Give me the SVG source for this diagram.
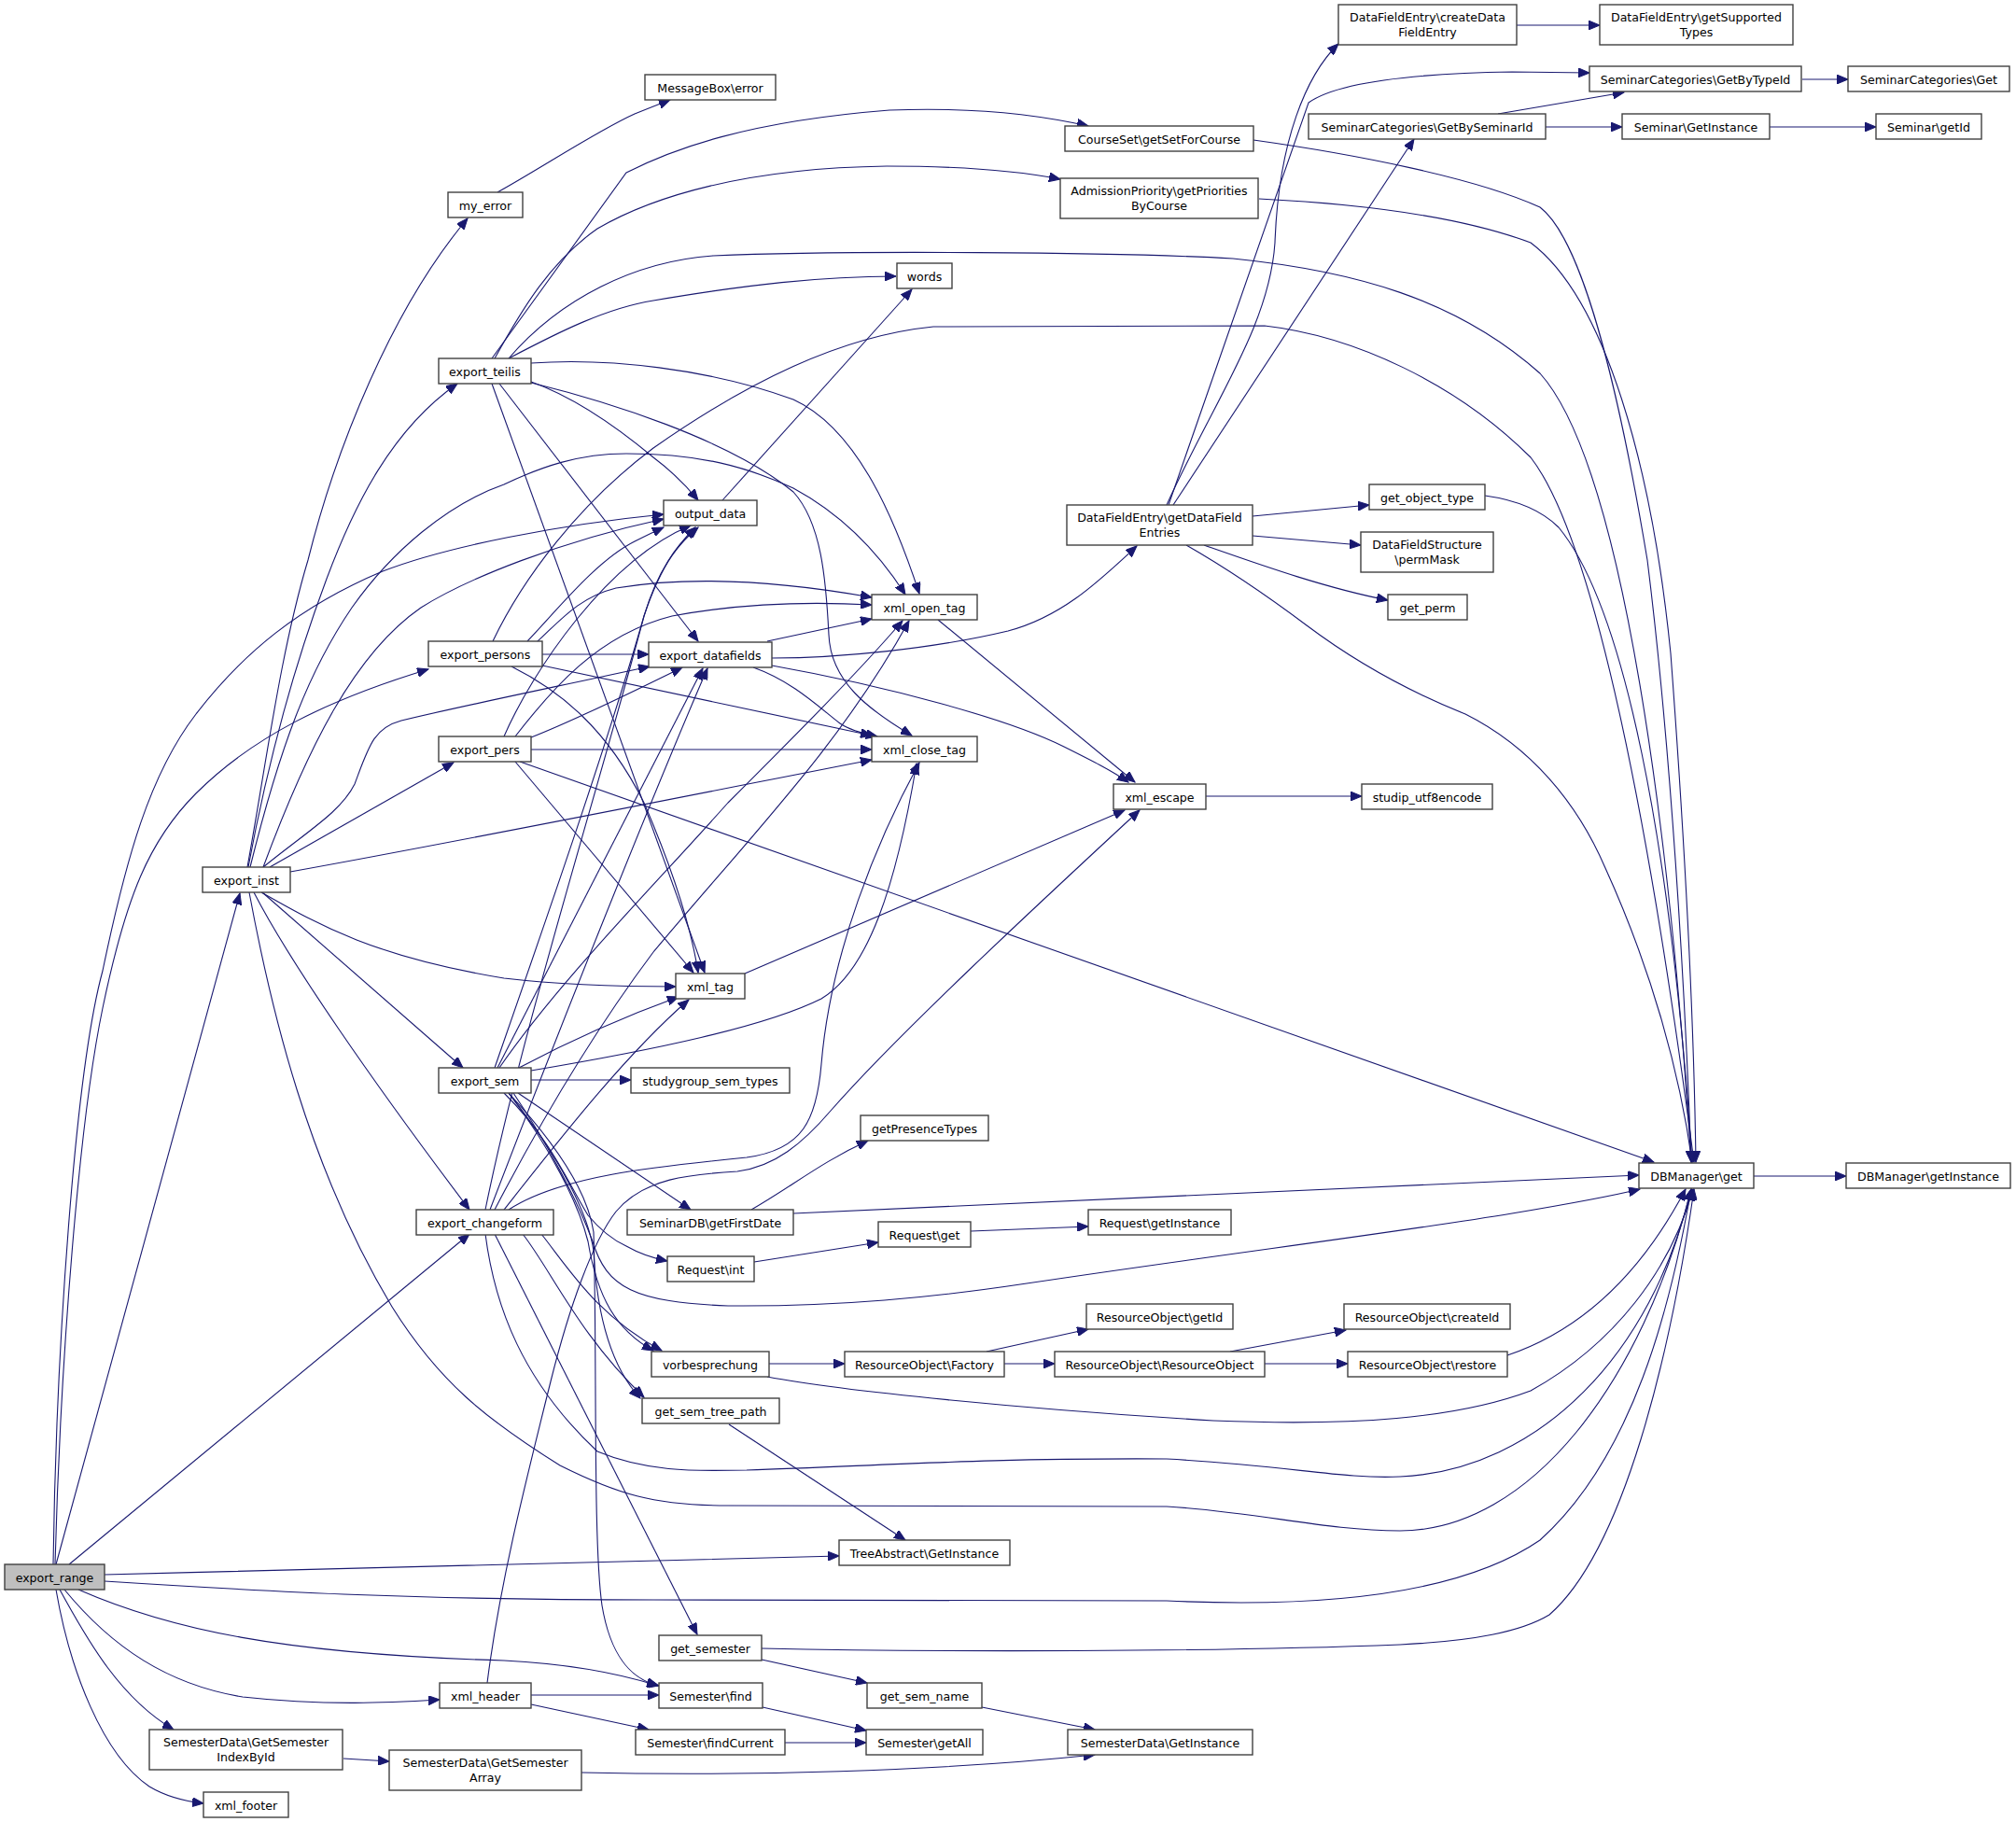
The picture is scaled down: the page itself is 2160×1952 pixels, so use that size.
<svg xmlns="http://www.w3.org/2000/svg" width="2160" height="1952" viewBox="0 0 2160 1952">
<defs>
<marker id="ah" markerWidth="13" markerHeight="10" refX="12" refY="5" orient="auto" markerUnits="userSpaceOnUse"><path d="M0,0 L12,5 L0,10 z" fill="#191970" stroke="#191970" stroke-width="1"/></marker>
<style>
.n rect{fill:#fff;stroke:#404040;stroke-width:1.4}
.n text{font-family:"DejaVu Sans",sans-serif;font-size:12.6px;fill:#000;text-anchor:middle}
#edges path{fill:none;stroke:#191970;stroke-width:1.1;marker-end:url(#ah)}
</style>
</defs>
<rect width="2160" height="1952" fill="#fff"/>
<g id="edges">
<path d="M60,1676 L257,957"/>
<path d="M74,1676 L503,1322"/>
<path d="M112,1687 C400,1680 700,1670 899,1667"/>
<path d="M112,1694 C300,1706 450,1714 700,1714 L1250,1715 C1400,1722 1560,1712 1650,1650 C1750,1560 1790,1400 1812,1274"/>
<path d="M84,1703 C180,1745 300,1772 540,1779 C620,1783 670,1795 705,1806"/>
<path d="M69,1703 C120,1765 180,1805 260,1818 C350,1828 420,1824 471,1821"/>
<path d="M64,1703 C95,1760 130,1820 186,1853"/>
<path d="M60,1703 C75,1790 110,1880 160,1914 C180,1926 200,1930 218,1932"/>
<path d="M57,1676 C60,1450 80,1150 110,1040 C135,920 160,830 210,765 C260,700 320,650 410,612 C480,585 600,562 711,551"/>
<path d="M59,1676 C65,1450 85,1200 110,1080 C135,960 160,900 210,850 C270,790 350,750 459,717"/>
<path d="M265,929 C285,820 300,700 330,600 C360,480 420,330 501,234"/>
<path d="M266,929 C290,800 320,700 350,620 C380,540 420,460 490,411"/>
<path d="M282,929 C330,800 380,700 451,651 C500,620 600,580 711,556"/>
<path d="M268,929 C300,800 330,720 377,651 C420,590 480,540 540,519 C580,500 620,486 671,486 C750,486 800,500 850,523 C900,550 940,590 970,637"/>
<path d="M282,929 C330,890 365,870 380,840 C395,800 400,780 430,772 C500,755 600,735 696,714"/>
<path d="M289,929 L486,817"/>
<path d="M311,934 C500,900 750,850 934,814"/>
<path d="M280,956 C340,990 400,1025 540,1048 C600,1055 660,1057 724,1057"/>
<path d="M281,956 L496,1144"/>
<path d="M272,956 C310,1030 400,1160 503,1296"/>
<path d="M267,956 C290,1080 330,1250 420,1400 C470,1480 520,1520 600,1570 C660,1600 700,1613 780,1613 L1250,1614 C1350,1620 1420,1640 1500,1640 C1640,1640 1760,1480 1812,1274"/>
<path d="M527,384 L671,185 C720,160 800,130 953,118 C1030,115 1100,120 1166,135"/>
<path d="M530,384 C560,330 590,280 640,245 C700,210 800,180 950,178 C1030,178 1090,183 1136,192"/>
<path d="M545,384 C600,355 650,330 700,322 C800,305 880,296 960,296"/>
<path d="M545,384 C600,320 680,280 764,274 C900,268 1200,270 1321,277 C1450,290 1560,320 1650,400 C1740,500 1790,900 1812,1245"/>
<path d="M569,409 C600,420 640,440 700,490 C720,505 735,520 748,536"/>
<path d="M569,389 C650,383 760,395 850,428 C920,460 960,560 985,636"/>
<path d="M569,410 C650,430 780,470 850,527 C880,560 885,620 888,680 C890,730 930,760 977,788"/>
<path d="M535,411 L748,687"/>
<path d="M527,411 L755,1042"/>
<path d="M1343,150 C1450,165 1580,190 1650,222 C1700,260 1740,450 1765,600 C1790,800 1805,1050 1812,1245"/>
<path d="M1349,213 C1450,218 1560,230 1640,260 C1720,320 1770,500 1790,700 C1805,900 1815,1100 1817,1245"/>
<path d="M528,687 C560,620 620,540 700,480 C800,410 900,360 1000,350 L1355,349 C1450,360 1560,410 1640,490 C1710,580 1770,900 1815,1245"/>
<path d="M1591,531 C1620,535 1650,545 1670,565 C1740,650 1790,900 1813,1245"/>
<path d="M1271,584 C1320,612 1360,640 1400,670 C1460,715 1520,745 1570,765 C1640,800 1690,860 1720,930 C1770,1040 1800,1150 1813,1245"/>
<path d="M565,687 C600,650 640,600 680,580 C690,575 700,570 711,565"/>
<path d="M575,688 C600,665 620,640 660,630 C750,615 850,625 934,640"/>
<path d="M581,701 L695,701"/>
<path d="M581,713 L934,788"/>
<path d="M548,714 C600,740 650,780 690,860 C720,930 740,990 748,1042"/>
<path d="M552,789 C590,740 640,680 720,660 C800,645 880,645 934,648"/>
<path d="M540,789 C570,720 650,600 740,563"/>
<path d="M569,790 C620,770 680,740 731,715"/>
<path d="M569,803 L934,803"/>
<path d="M552,816 L743,1042"/>
<path d="M557,816 L1772,1245"/>
<path d="M822,687 L934,663"/>
<path d="M827,705 C900,705 1000,695 1080,676 C1140,660 1180,620 1218,585"/>
<path d="M807,715 C850,730 880,760 900,775 C910,782 925,786 940,789"/>
<path d="M827,713 C950,735 1080,770 1140,800 C1170,815 1190,825 1209,838"/>
<path d="M1005,664 L1216,838"/>
<path d="M798,1043 L1205,868"/>
<path d="M522,1803 C535,1700 560,1600 590,1480 C610,1400 635,1330 660,1298 C690,1262 740,1258 790,1255 C830,1250 860,1225 890,1190 C960,1110 1100,980 1221,868"/>
<path d="M530,1144 C580,1000 650,800 690,660 C705,610 725,585 745,565"/>
<path d="M535,1144 C600,1050 700,950 780,860 C850,790 920,720 967,665"/>
<path d="M533,1144 L753,716"/>
<path d="M556,1144 C620,1110 680,1085 727,1068"/>
<path d="M569,1147 C700,1125 820,1100 880,1070 C930,1040 960,950 982,818"/>
<path d="M569,1157 L676,1157"/>
<path d="M555,1171 L740,1296"/>
<path d="M540,1171 C590,1220 610,1270 630,1302 C645,1320 660,1330 671,1335 C685,1343 700,1348 715,1351"/>
<path d="M545,1171 C590,1230 620,1290 630,1330 C640,1390 660,1425 700,1447"/>
<path d="M545,1171 C600,1240 630,1300 636,1340 C640,1420 660,1470 686,1498"/>
<path d="M545,1171 C600,1230 630,1280 636,1320 C640,1450 635,1650 645,1720 C655,1780 680,1800 706,1806"/>
<path d="M550,1171 C590,1230 620,1290 635,1330 C650,1380 680,1395 780,1399 C900,1400 1000,1390 1100,1375 C1300,1345 1500,1320 1620,1300 C1680,1290 1720,1283 1757,1274"/>
<path d="M520,1296 C560,1100 640,850 690,660 C710,600 730,580 748,565"/>
<path d="M530,1296 C580,1200 640,1100 700,1020 C800,900 900,800 974,665"/>
<path d="M525,1296 C600,1100 700,850 758,716"/>
<path d="M545,1296 C600,1260 700,1250 800,1240 C860,1232 875,1200 880,1140 C890,1020 940,900 985,817"/>
<path d="M540,1296 C600,1220 670,1130 738,1071"/>
<path d="M580,1322 C610,1360 640,1410 709,1447"/>
<path d="M560,1322 C590,1360 620,1430 690,1497"/>
<path d="M530,1322 L747,1751"/>
<path d="M520,1322 C530,1400 560,1480 640,1555 C700,1580 760,1575 800,1575 C950,1570 1050,1562 1250,1563 C1380,1570 1440,1585 1500,1582 C1650,1575 1770,1450 1812,1274"/>
<path d="M805,1296 C850,1270 880,1245 930,1222"/>
<path d="M850,1300 L1756,1259"/>
<path d="M808,1352 L941,1331"/>
<path d="M1040,1319 L1166,1314"/>
<path d="M824,1461 L905,1461"/>
<path d="M822,1475 C900,1490 1100,1510 1300,1522 C1450,1528 1560,1520 1640,1490 C1730,1440 1790,1360 1814,1274"/>
<path d="M1057,1448 L1166,1424"/>
<path d="M1076,1461 L1130,1461"/>
<path d="M1318,1448 L1442,1425"/>
<path d="M1355,1461 L1444,1461"/>
<path d="M1615,1452 C1680,1430 1750,1380 1806,1274"/>
<path d="M781,1526 L970,1650"/>
<path d="M816,1778 L929,1803"/>
<path d="M816,1766 C1000,1770 1300,1770 1500,1762 C1580,1758 1630,1748 1660,1730 C1740,1660 1790,1450 1815,1274"/>
<path d="M1052,1829 L1173,1853"/>
<path d="M817,1829 L928,1854"/>
<path d="M841,1867 L928,1867"/>
<path d="M569,1816 L706,1816"/>
<path d="M569,1826 L695,1853"/>
<path d="M368,1884 L417,1887"/>
<path d="M623,1899 C800,1903 1000,1898 1173,1880"/>
<path d="M1879,1260 L1978,1260"/>
<path d="M774,536 L977,310"/>
<path d="M533,206 C580,180 640,140 680,122 C695,116 705,112 718,107"/>
<path d="M1292,853 L1459,853"/>
<path d="M1250,541 C1300,430 1360,350 1366,260 C1370,150 1400,80 1434,47"/>
<path d="M1252,541 L1402,110 C1430,90 1500,79 1620,77 L1703,78"/>
<path d="M1257,541 L1515,149"/>
<path d="M1342,553 L1467,541"/>
<path d="M1342,574 L1458,584"/>
<path d="M1290,584 C1350,605 1420,630 1487,643"/>
<path d="M1625,27 L1714,27"/>
<path d="M1605,122 L1740,99"/>
<path d="M1656,136 L1738,136"/>
<path d="M1931,85 L1980,85"/>
<path d="M1896,136 L2010,136"/>
</g>
<g id="n_export_range" class="n"><rect x="5" y="1676" width="107" height="27" style="fill:#bfbfbf"/><text x="58.5" y="1694.5">export_range</text></g>
<g id="n_export_inst" class="n"><rect x="217" y="929" width="94" height="27"/><text x="264" y="947.5">export_inst</text></g>
<g id="n_my_error" class="n"><rect x="480" y="206" width="80" height="27"/><text x="520" y="224.5">my_error</text></g>
<g id="n_export_teilis" class="n"><rect x="470" y="384" width="99" height="27"/><text x="519.5" y="402.5">export_teilis</text></g>
<g id="n_export_persons" class="n"><rect x="459" y="687" width="122" height="27"/><text x="520" y="705.5">export_persons</text></g>
<g id="n_export_pers" class="n"><rect x="470" y="789" width="99" height="27"/><text x="519.5" y="807.5">export_pers</text></g>
<g id="n_export_sem" class="n"><rect x="470" y="1144" width="99" height="27"/><text x="519.5" y="1162.5">export_sem</text></g>
<g id="n_export_changeform" class="n"><rect x="446" y="1296" width="147" height="27"/><text x="519.5" y="1314.5">export_changeform</text></g>
<g id="n_messagebox_error" class="n"><rect x="691" y="80" width="140" height="27"/><text x="761" y="98.5">MessageBox\error</text></g>
<g id="n_words" class="n"><rect x="961" y="282" width="59" height="27"/><text x="990.5" y="300.5">words</text></g>
<g id="n_output_data" class="n"><rect x="711" y="536" width="100" height="27"/><text x="761" y="554.5">output_data</text></g>
<g id="n_xml_open_tag" class="n"><rect x="934" y="637" width="113" height="27"/><text x="990.5" y="655.5">xml_open_tag</text></g>
<g id="n_export_datafields" class="n"><rect x="695" y="688" width="132" height="27"/><text x="761" y="706.5">export_datafields</text></g>
<g id="n_xml_close_tag" class="n"><rect x="934" y="789" width="113" height="27"/><text x="990.5" y="807.5">xml_close_tag</text></g>
<g id="n_xml_tag" class="n"><rect x="724" y="1043" width="74" height="27"/><text x="761" y="1061.5">xml_tag</text></g>
<g id="n_studygroup_sem_types" class="n"><rect x="676" y="1144" width="170" height="27"/><text x="761" y="1162.5">studygroup_sem_types</text></g>
<g id="n_getpresencetypes" class="n"><rect x="922" y="1195" width="137" height="27"/><text x="990.5" y="1213.5">getPresenceTypes</text></g>
<g id="n_seminardb_getfirstdate" class="n"><rect x="672" y="1296" width="178" height="27"/><text x="761" y="1314.5">SeminarDB\getFirstDate</text></g>
<g id="n_request_int" class="n"><rect x="715" y="1346" width="93" height="27"/><text x="761.5" y="1364.5">Request\int</text></g>
<g id="n_request_get" class="n"><rect x="941" y="1309" width="99" height="27"/><text x="990.5" y="1327.5">Request\get</text></g>
<g id="n_request_getinstance" class="n"><rect x="1166" y="1296" width="153" height="27"/><text x="1242.5" y="1314.5">Request\getInstance</text></g>
<g id="n_vorbesprechung" class="n"><rect x="698" y="1448" width="126" height="27"/><text x="761" y="1466.5">vorbesprechung</text></g>
<g id="n_resourceobject_factory" class="n"><rect x="905" y="1448" width="171" height="27"/><text x="990.5" y="1466.5">ResourceObject\Factory</text></g>
<g id="n_resourceobject_getid" class="n"><rect x="1164" y="1397" width="157" height="27"/><text x="1242.5" y="1415.5">ResourceObject\getId</text></g>
<g id="n_resourceobject_resourceobject" class="n"><rect x="1130" y="1448" width="225" height="27"/><text x="1242.5" y="1466.5">ResourceObject\ResourceObject</text></g>
<g id="n_resourceobject_createid" class="n"><rect x="1440" y="1397" width="178" height="27"/><text x="1529" y="1415.5">ResourceObject\createId</text></g>
<g id="n_resourceobject_restore" class="n"><rect x="1444" y="1448" width="171" height="27"/><text x="1529.5" y="1466.5">ResourceObject\restore</text></g>
<g id="n_get_sem_tree_path" class="n"><rect x="688" y="1498" width="147" height="27"/><text x="761.5" y="1516.5">get_sem_tree_path</text></g>
<g id="n_treeabstract_getinstance" class="n"><rect x="899" y="1650" width="183" height="27"/><text x="990.5" y="1668.5">TreeAbstract\GetInstance</text></g>
<g id="n_get_semester" class="n"><rect x="706" y="1752" width="110" height="27"/><text x="761" y="1770.5">get_semester</text></g>
<g id="n_semester_find" class="n"><rect x="706" y="1803" width="111" height="27"/><text x="761.5" y="1821.5">Semester\find</text></g>
<g id="n_get_sem_name" class="n"><rect x="929" y="1803" width="123" height="27"/><text x="990.5" y="1821.5">get_sem_name</text></g>
<g id="n_xml_header" class="n"><rect x="471" y="1803" width="98" height="27"/><text x="520" y="1821.5">xml_header</text></g>
<g id="n_semester_findcurrent" class="n"><rect x="681" y="1853" width="160" height="27"/><text x="761" y="1871.5">Semester\findCurrent</text></g>
<g id="n_semester_getall" class="n"><rect x="928" y="1853" width="125" height="27"/><text x="990.5" y="1871.5">Semester\getAll</text></g>
<g id="n_semesterdata_getinstance" class="n"><rect x="1144" y="1853" width="198" height="27"/><text x="1243" y="1871.5">SemesterData\GetInstance</text></g>
<g id="n_semesterdata_getsemesterindexbyid" class="n"><rect x="160" y="1853" width="207" height="43"/><text x="263.5" y="1870.8">SemesterData\GetSemester</text><text x="263.5" y="1886.5">IndexById</text></g>
<g id="n_semesterdata_getsemesterarray" class="n"><rect x="417" y="1875" width="206" height="43"/><text x="520" y="1892.8">SemesterData\GetSemester</text><text x="520" y="1908.5">Array</text></g>
<g id="n_xml_footer" class="n"><rect x="218" y="1920" width="91" height="27"/><text x="263.5" y="1938.5">xml_footer</text></g>
<g id="n_courseset_getsetforcourse" class="n"><rect x="1141" y="135" width="202" height="27"/><text x="1242" y="153.5">CourseSet\getSetForCourse</text></g>
<g id="n_admissionpriority" class="n"><rect x="1136" y="191" width="212" height="43"/><text x="1242" y="208.8">AdmissionPriority\getPriorities</text><text x="1242" y="224.5">ByCourse</text></g>
<g id="n_getdatafieldentries" class="n"><rect x="1143" y="541" width="199" height="43"/><text x="1242.5" y="558.8">DataFieldEntry\getDataField</text><text x="1242.5" y="574.5">Entries</text></g>
<g id="n_createdatafieldentry" class="n"><rect x="1434" y="5" width="191" height="43"/><text x="1529.5" y="22.8">DataFieldEntry\createData</text><text x="1529.5" y="38.5">FieldEntry</text></g>
<g id="n_getsupportedtypes" class="n"><rect x="1714" y="5" width="207" height="43"/><text x="1817.5" y="22.8">DataFieldEntry\getSupported</text><text x="1817.5" y="38.5">Types</text></g>
<g id="n_seminarcategories_getbytypeid" class="n"><rect x="1703" y="71" width="227" height="27"/><text x="1816.5" y="89.5">SeminarCategories\GetByTypeId</text></g>
<g id="n_seminarcategories_get" class="n"><rect x="1980" y="71" width="173" height="27"/><text x="2066.5" y="89.5">SeminarCategories\Get</text></g>
<g id="n_seminarcategories_getbyseminarid" class="n"><rect x="1402" y="122" width="254" height="27"/><text x="1529" y="140.5">SeminarCategories\GetBySeminarId</text></g>
<g id="n_seminar_getinstance" class="n"><rect x="1738" y="122" width="158" height="27"/><text x="1817" y="140.5">Seminar\GetInstance</text></g>
<g id="n_seminar_getid" class="n"><rect x="2010" y="122" width="113" height="27"/><text x="2066.5" y="140.5">Seminar\getId</text></g>
<g id="n_get_object_type" class="n"><rect x="1467" y="519" width="124" height="27"/><text x="1529" y="537.5">get_object_type</text></g>
<g id="n_datafieldstructure_permmask" class="n"><rect x="1458" y="570" width="142" height="43"/><text x="1529" y="587.8">DataFieldStructure</text><text x="1529" y="603.5">\permMask</text></g>
<g id="n_get_perm" class="n"><rect x="1487" y="637" width="85" height="27"/><text x="1529.5" y="655.5">get_perm</text></g>
<g id="n_xml_escape" class="n"><rect x="1193" y="840" width="99" height="27"/><text x="1242.5" y="858.5">xml_escape</text></g>
<g id="n_studip_utf8encode" class="n"><rect x="1459" y="840" width="140" height="27"/><text x="1529" y="858.5">studip_utf8encode</text></g>
<g id="n_dbmanager_get" class="n"><rect x="1756" y="1246" width="123" height="27"/><text x="1817.5" y="1264.5">DBManager\get</text></g>
<g id="n_dbmanager_getinstance" class="n"><rect x="1978" y="1246" width="176" height="27"/><text x="2066" y="1264.5">DBManager\getInstance</text></g>
</svg>
